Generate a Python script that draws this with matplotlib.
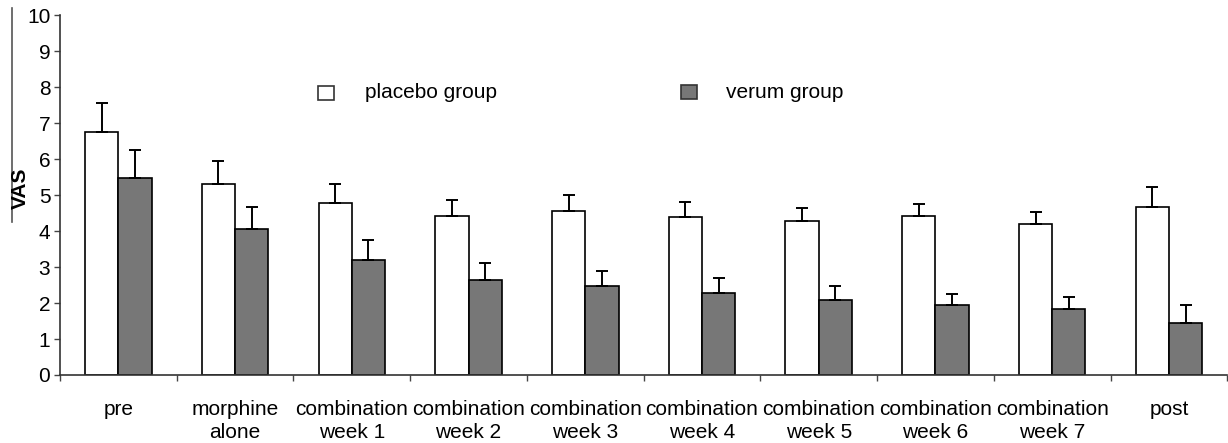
import matplotlib
matplotlib.use("Agg")
import matplotlib.pyplot as plt
import numpy as np
from matplotlib.lines import Line2D
from matplotlib.patches import Rectangle

plt.rcParams['font.family'] = ['Liberation Sans', 'DejaVu Sans']

categories = ["pre", "morphine\nalone", "combination\nweek 1", "combination\nweek 2",
              "combination\nweek 3", "combination\nweek 4", "combination\nweek 5",
              "combination\nweek 6", "combination\nweek 7", "post"]
placebo = [6.76, 5.30, 4.79, 4.41, 4.56, 4.38, 4.27, 4.41, 4.19, 4.66]
placebo_err = [0.79, 0.65, 0.51, 0.45, 0.44, 0.43, 0.37, 0.33, 0.34, 0.56]
verum = [5.46, 4.05, 3.20, 2.64, 2.46, 2.29, 2.09, 1.94, 1.83, 1.44]
verum_err = [0.79, 0.63, 0.55, 0.46, 0.44, 0.41, 0.38, 0.31, 0.35, 0.51]

FS = 15

fig = plt.figure(figsize=(12.28, 4.43), dpi=100)
ax = fig.add_axes([0.0489, 0.1535, 0.9505, 0.8125])

x = np.arange(len(categories))
w = 0.285
ek = dict(ecolor='black', elinewidth=1.4, capsize=4, capthick=1.4)
ax.bar(x - w/2, placebo, w, color='white', edgecolor='black', linewidth=1.2,
       yerr=[np.zeros(len(x)), placebo_err], error_kw=ek, zorder=2)
ax.bar(x + w/2, verum, w, color='#777777', edgecolor='black', linewidth=1.2,
       yerr=[np.zeros(len(x)), verum_err], error_kw=ek, zorder=2)

ax.set_xlim(-0.5, len(categories) - 0.5)
ax.set_ylim(0, 10)
ax.set_yticks(range(0, 11))
ax.tick_params(axis='y', direction='out', length=4, width=1, labelsize=FS, pad=3, color='#444444')
ax.set_xticks(x)
ax.set_xticklabels(categories, fontsize=FS, linespacing=1.25)
ax.tick_params(axis='x', which='major', length=0, pad=18)
ax.set_xticks(np.arange(-0.5, len(categories) - 0.4, 1), minor=True)
ax.tick_params(axis='x', which='minor', direction='out', length=4, width=1, color='#444444')
for s in ['top', 'right']:
    ax.spines[s].set_visible(False)
for s in ['left', 'bottom']:
    ax.spines[s].set_color('#333333')
    ax.spines[s].set_linewidth(1.2)

fig.text(20/1228, 1 - 188/443, "VAS", fontsize=FS, fontweight='bold', rotation=90,
         ha='center', va='center')

# legend drawn manually
fig.add_artist(Rectangle((318/1228, 1 - 100/443), 16/1228, 14/443, transform=fig.transFigure,
                         facecolor='white', edgecolor='#333333', linewidth=1.2))
fig.text(365/1228, 1 - 93/443, "placebo group", fontsize=FS, va='center', ha='left')
fig.add_artist(Rectangle((681/1228, 1 - 99/443), 16/1228, 14/443, transform=fig.transFigure,
                         facecolor='#777777', edgecolor='#333333', linewidth=1.2))
fig.text(726/1228, 1 - 93/443, "verum group", fontsize=FS, va='center', ha='left')

fig.add_artist(Line2D([12/1228, 12/1228], [1 - 8/443, 1 - 222/443], transform=fig.transFigure,
                      color='#555555', linewidth=1.2))

fig.savefig("out.png", dpi=100)
